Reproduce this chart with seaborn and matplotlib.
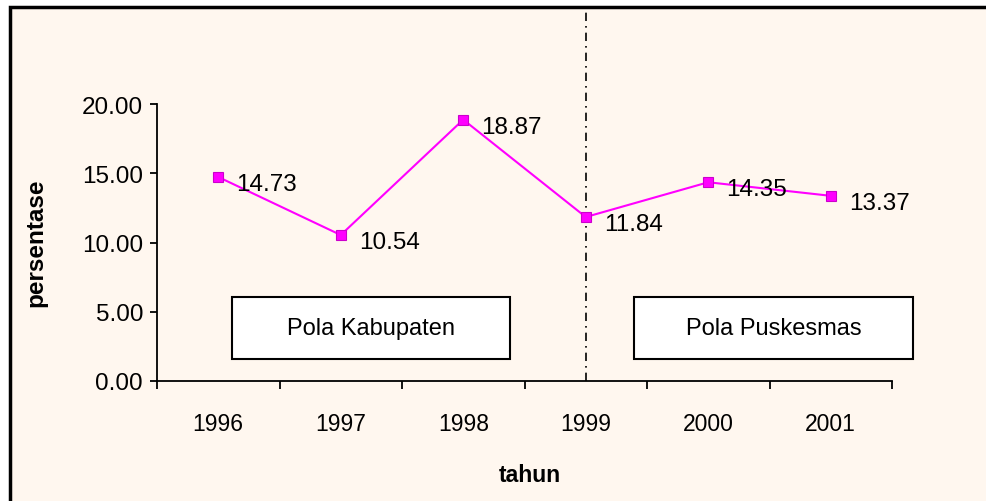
import pandas as pd
import matplotlib.pyplot as plt
import matplotlib.patches as mpatches
import seaborn as sns

# data
years = [1996, 1997, 1998, 1999, 2000, 2001]
persentase = [14.73, 10.54, 18.87, 11.84, 14.35, 13.37]
split_year = 1999
y_ticks = [0, 5, 10, 15, 20]

df = pd.DataFrame({'tahun': years, 'persentase': persentase})

sns.set_style('ticks')
plt.rcParams['font.family'] = ['Liberation Sans', 'DejaVu Sans']
plt.rcParams['text.color'] = 'black'
plt.rcParams['xtick.color'] = 'black'
plt.rcParams['ytick.color'] = 'black'
plt.rcParams['axes.labelcolor'] = 'black'

bg = '#FFF7EF'
magenta = '#FF00FF'

fig = plt.figure(figsize=(9.86, 5.02), dpi=100, facecolor='white')
# cream panel with black border (right and bottom run off the picture)
fig.patches.append(mpatches.Rectangle((10 / 986, -0.05), 1.1, (502 - 8) / 502 + 0.05,
                                      transform=fig.transFigure, facecolor=bg,
                                      edgecolor='black', linewidth=2.5, zorder=-10))

ax = fig.add_axes([157 / 986, (502 - 382) / 502, (892 - 157) / 986, (382 - 105) / 502])
ax.set_facecolor('none')

sns.lineplot(data=df, x='tahun', y='persentase', ax=ax, color=magenta, linewidth=1.5,
             marker='s', markersize=7, markerfacecolor=magenta,
             markeredgecolor='#CC00CC', markeredgewidth=0.8)

for x, y in zip(years, persentase):
    ax.annotate(f'{y:.2f}', (x, y), xytext=(13, -5), textcoords='offset points',
                ha='left', va='center', fontsize=17.5)

# split line between the two schemes
ax.plot([split_year, split_year], [0, 27], color='black', linewidth=1.2,
        linestyle=(0, (5, 3, 1, 3)), clip_on=False, zorder=1)

ax.set_xlim(years[0] - 0.5, years[-1] + 0.5)
ax.set_ylim(0, 20)
ax.set_xticks(years)
ax.set_xticklabels([str(y) for y in years])
ax.set_xticks([y + 0.5 for y in years[:-1]] + [years[0] - 0.5, years[-1] + 0.5], minor=True)
ax.tick_params(axis='x', which='major', length=0, pad=22, labelsize=16.5)
ax.tick_params(axis='x', which='minor', length=6, width=1.3, direction='out', color='black')
ax.set_yticks(y_ticks)
ax.set_yticklabels([f'{v:.2f}' for v in y_ticks])
ax.tick_params(axis='y', length=5, width=1.3, pad=5, labelsize=17.5, color='black')

for s in ['top', 'right']:
    ax.spines[s].set_visible(False)
for s in ['left', 'bottom']:
    ax.spines[s].set_linewidth(1.3)
    ax.spines[s].set_color('black')

ax.set_xlabel('tahun', fontsize=16.5, fontweight='bold')
ax.set_ylabel('persentase', fontsize=17.5, fontweight='bold')
ax.xaxis.set_label_coords((530 - 157) / 735, (382 - 464) / 277)
ax.yaxis.set_label_coords((47 - 157) / 735, (382 - 243) / 277)

# text boxes for the two schemes
boxes = [('Pola Kabupaten', 232, 510), ('Pola Puskesmas', 634, 913)]
for label, x0, x1 in boxes:
    fig.patches.append(mpatches.Rectangle((x0 / 986, (502 - 360) / 502), (x1 - x0) / 986, 62 / 502,
                                          transform=fig.transFigure, facecolor='white',
                                          edgecolor='black', linewidth=1.5, zorder=2))
    fig.text((x0 + x1) / 2 / 986, (502 - 329) / 502, label, ha='center', va='center',
             fontsize=17, zorder=3)

fig.savefig('out.png', dpi=100, facecolor=fig.get_facecolor())
